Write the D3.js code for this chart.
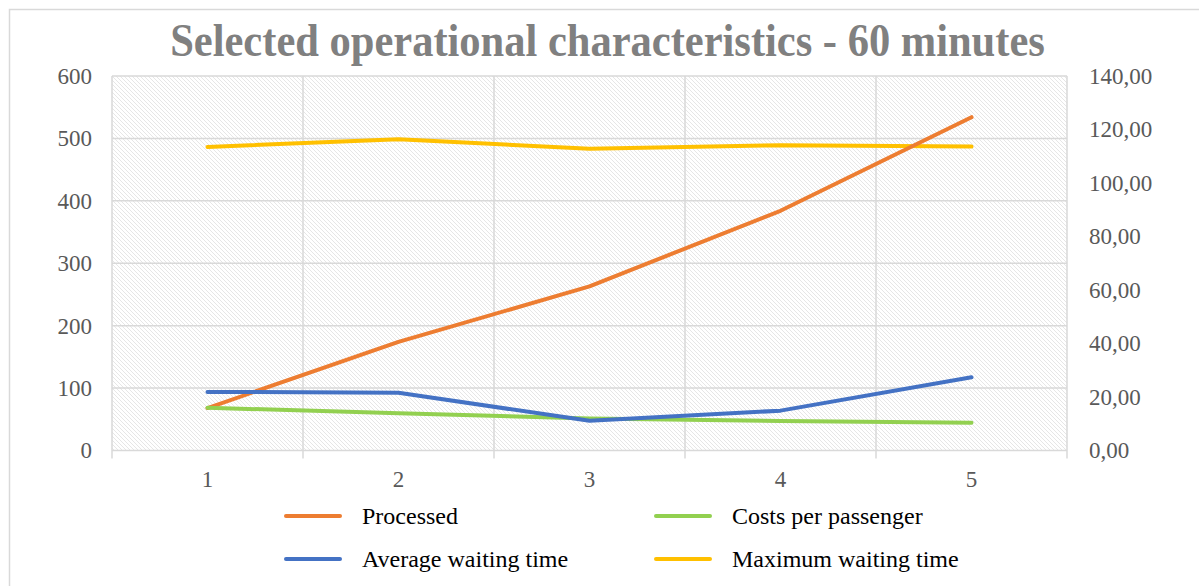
<!DOCTYPE html>
<html>
<head>
<meta charset="utf-8">
<script src="https://cdn.jsdelivr.net/npm/d3@7"></script>
<style>
  html, body { margin: 0; padding: 0; background: #fff; }
  svg { display: block; }
  text { font-family: "Liberation Serif", "Times New Roman", serif; }
</style>
</head>
<body>
<svg id="chart" width="1199" height="586"></svg>
<script>
// Scenario index on the x axis
const categories = [1, 2, 3, 4, 5];

// Primary axis series
const processed = [68, 174, 263, 384, 534];

// Secondary axis series
const avgWaiting = [21.9, 21.6, 11.1, 14.9, 27.4];
const costsPerPassenger = [16.0, 13.9, 12.0, 11.0, 10.4];
const maxWaiting = [113.5, 116.4, 112.8, 114.1, 113.6];

const leftTicks = [0, 100, 200, 300, 400, 500, 600];
const rightTicks = [0, 20, 40, 60, 80, 100, 120, 140];

const title = "Selected operational characteristics - 60 minutes";

const series = [
  { name: "Processed", values: processed, axis: "left", color: "#ED7D31" },
  { name: "Costs per passenger", values: costsPerPassenger, axis: "right", color: "#92D050" },
  { name: "Average waiting time", values: avgWaiting, axis: "right", color: "#4472C4" },
  { name: "Maximum waiting time", values: maxWaiting, axis: "right", color: "#FFC000" }
];

const svg = d3.select("#chart");
const W = 1199, H = 586;
const plot = { left: 112, right: 1067, top: 76, bottom: 450.5 };

// Outer chart frame
svg.append("rect")
  .attr("x", 9.5).attr("y", 9.5)
  .attr("width", W).attr("height", H)
  .attr("fill", "#fff")
  .attr("stroke", "#d9d9d9").attr("stroke-width", 1.5);

// Hatched plot background
const defs = svg.append("defs");
const pat = defs.append("pattern")
  .attr("id", "hatch")
  .attr("patternUnits", "userSpaceOnUse")
  .attr("width", 4).attr("height", 4);
pat.append("rect").attr("width", 4).attr("height", 4).attr("fill", "#ffffff");
pat.append("path")
  .attr("d", "M-1,-1 L5,5 M-1,3 L1,5 M3,-1 L5,1")
  .attr("stroke", "#e3e3e3").attr("stroke-width", 0.9);

svg.append("rect")
  .attr("x", plot.left).attr("y", plot.top)
  .attr("width", plot.right - plot.left)
  .attr("height", plot.bottom - plot.top)
  .attr("fill", "url(#hatch)");

// Scales
const xBand = d3.scaleBand().domain(categories).range([plot.left, plot.right]).padding(0);
const yLeft = d3.scaleLinear().domain([0, 600]).range([plot.bottom, plot.top]);
const yRight = d3.scaleLinear().domain([0, 140]).range([plot.bottom, plot.top]);

const gridColor = "#d9d9d9";

// Horizontal gridlines
svg.append("g")
  .selectAll("line")
  .data(leftTicks)
  .join("line")
  .attr("x1", plot.left).attr("x2", plot.right)
  .attr("y1", d => yLeft(d)).attr("y2", d => yLeft(d))
  .attr("stroke", gridColor).attr("stroke-width", 1.5);

// Vertical gridlines at category boundaries, extended below as tick marks
const bounds = categories.map(c => xBand(c)).concat([plot.right]);
svg.append("g")
  .selectAll("line")
  .data(bounds)
  .join("line")
  .attr("x1", d => d).attr("x2", d => d)
  .attr("y1", plot.top).attr("y2", plot.bottom + 8)
  .attr("stroke", gridColor).attr("stroke-width", 1.5);

// Left axis labels
const axisColor = "#595959";
const leftAxis = d3.axisLeft(yLeft).tickValues(leftTicks).tickSize(0).tickPadding(20)
  .tickFormat(d3.format("d"));
const gL = svg.append("g").attr("transform", `translate(${plot.left},0)`).call(leftAxis);
gL.select(".domain").remove();
gL.selectAll("text").attr("fill", axisColor).attr("font-size", 23)
  .attr("font-family", "Liberation Serif, Times New Roman, serif");

// Right axis labels (decimal comma)
const commaFmt = d => d3.format(".2f")(d).replace(".", ",");
const rightAxis = d3.axisRight(yRight).tickValues(rightTicks).tickSize(0).tickPadding(22)
  .tickFormat(commaFmt);
const gR = svg.append("g").attr("transform", `translate(${plot.right},0)`).call(rightAxis);
gR.select(".domain").remove();
gR.selectAll("text").attr("fill", axisColor).attr("font-size", 23)
  .attr("font-family", "Liberation Serif, Times New Roman, serif");

// Category labels
const bottomAxis = d3.axisBottom(xBand).tickSize(0).tickPadding(20);
const gB = svg.append("g").attr("transform", `translate(0,${plot.bottom})`).call(bottomAxis);
gB.select(".domain").remove();
gB.selectAll("text").attr("fill", axisColor).attr("font-size", 23)
  .attr("font-family", "Liberation Serif, Times New Roman, serif");

// Series lines
const xc = c => xBand(c) + xBand.bandwidth() / 2;
const drawOrder = [series[3], series[0], series[1], series[2]];
drawOrder.forEach(s => {
  const y = s.axis === "left" ? yLeft : yRight;
  const line = d3.line().x((d, i) => xc(categories[i])).y(d => y(d));
  svg.append("path")
    .datum(s.values)
    .attr("d", line)
    .attr("fill", "none")
    .attr("stroke", s.color)
    .attr("stroke-width", 4)
    .attr("stroke-linecap", "round")
    .attr("stroke-linejoin", "round");
});

// Title: bold serif, narrowed horizontally to a fixed width
const titleWidth = 875;
const titleG = svg.append("g");
const titleText = titleG.append("text")
  .attr("x", 0).attr("y", 0)
  .attr("text-anchor", "middle")
  .attr("font-size", 47)
  .attr("font-weight", "bold")
  .attr("fill", "#808080")
  .text(title);
const natural = titleText.node().getComputedTextLength();
titleG.attr("transform", `translate(607.5,56) scale(${titleWidth / natural},1)`);

// Legend: two columns, two rows
const legendItems = [
  { s: series[0], x: 286, y: 516 },
  { s: series[1], x: 656, y: 516 },
  { s: series[2], x: 286, y: 559 },
  { s: series[3], x: 656, y: 559 }
];
const lg = svg.append("g");
legendItems.forEach(it => {
  lg.append("line")
    .attr("x1", it.x).attr("x2", it.x + 54)
    .attr("y1", it.y).attr("y2", it.y)
    .attr("stroke", it.s.color).attr("stroke-width", 4)
    .attr("stroke-linecap", "round");
  lg.append("text")
    .attr("x", it.x + 76).attr("y", it.y)
    .attr("dy", "0.32em")
    .attr("font-size", 24)
    .attr("fill", "#000")
    .text(it.s.name);
});
</script>
</body>
</html>
